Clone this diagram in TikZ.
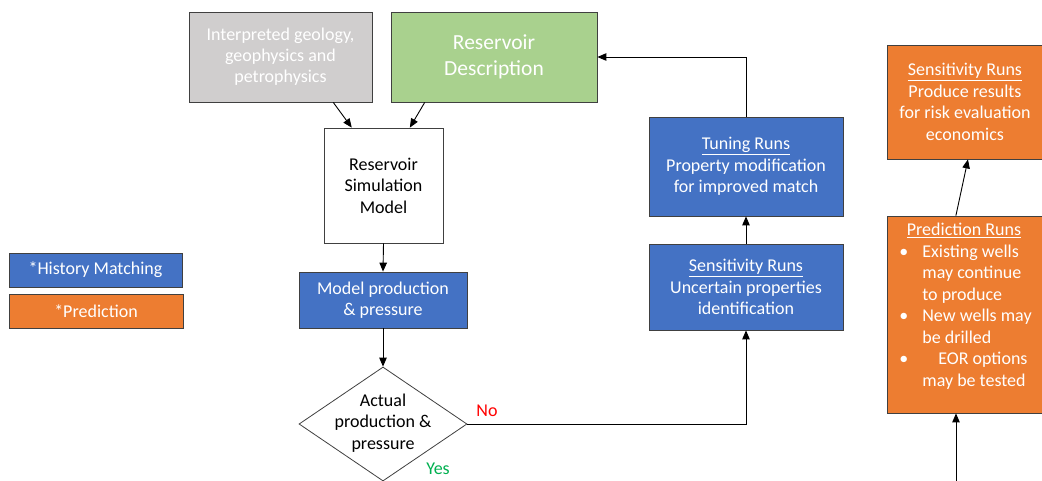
\documentclass[tikz,border=0pt]{standalone}
\usepackage{fontspec}
\setmainfont{Carlito}
\usetikzlibrary{arrows.meta,calc,shapes.geometric}
\definecolor{hmblue}{HTML}{4472C4}
\definecolor{prorange}{HTML}{ED7D31}
\definecolor{rdgreen}{HTML}{A9D18E}
\definecolor{ggray}{HTML}{D0CECE}
\definecolor{nored}{HTML}{FF0000}
\definecolor{yesgreen}{HTML}{00B050}
\tikzset{
  box/.style={draw=black!75, line width=0.8pt, inner sep=0pt, align=center,
    font=\fontsize{18}{21.5}\selectfont},
  bluebox/.style={box, fill=hmblue, text=white},
  orangebox/.style={box, fill=prorange, text=white},
  arr/.style={draw=black, line width=0.9pt, -{Triangle[length=9pt,width=7.5pt]}},
  lbl/.style={inner sep=0pt, font=\fontsize{18}{21}\selectfont}
}
\begin{document}
\begin{tikzpicture}[x=1pt,y=-1pt]
\useasboundingbox (0,0) rectangle (1042,480);
\clip (0,0) rectangle (1042,480);
\fill[white] (0,0) rectangle (1042,480);

% top inputs
\node[box, fill=ggray, text=white, minimum width=183pt, minimum height=90pt,
  font=\fontsize{18}{21}\selectfont] (geo) at (280.5,57)
  {Interpreted geology,\\geophysics and\\petrophysics};
\node[box, fill=rdgreen, text=white, minimum width=206pt, minimum height=90pt,
  font=\fontsize{21.5}{26}\selectfont] (desc) at (494,57)
  {Reservoir\\Description};

% main column
\node[box, fill=white, minimum width=119pt, minimum height=115pt] (sim) at (383.5,185.5)
  {Reservoir\\Simulation\\Model};
\node[bluebox, minimum width=168pt, minimum height=56pt] (prod) at (383,300)
  {Model production\\\& pressure};
\node[diamond, draw=black!75, line width=0.8pt, fill=white, minimum width=168pt,
  minimum height=114pt, inner sep=0pt] (dec) at (383,424) {};
\node[lbl, align=center, font=\fontsize{18}{21.5}\selectfont] (dectext) at (383,423)
  {Actual\\production \&\\pressure};
\node[lbl, text=nored] (no) at (487,411) {No};
\node[lbl, text=yesgreen] (yes) at (438,469) {Yes};

% history matching loop
\node[bluebox, minimum width=194pt, minimum height=99pt] (tun) at (746,166.5)
  {\underline{Tuning Runs}\\Property modification\\for improved match};
\node[bluebox, minimum width=194pt, minimum height=86pt] (sens) at (746,287)
  {\underline{Sensitivity Runs}\\Uncertain properties\\identification};

% prediction column
\node[orangebox, minimum width=156pt, minimum height=114pt] (risk) at (965,102)
  {\underline{Sensitivity Runs}\\Produce results\\for risk evaluation\\economics};
\node[orangebox, minimum width=156pt, minimum height=197pt] (pred) at (965,314.5)
  {\raisebox{3.5pt}[0pt][0pt]{\renewcommand{\arraystretch}{1}%
   \begin{tabular}{@{}l@{}l@{}}
   \multicolumn{2}{c}{\hspace{-2pt}\underline{Prediction Runs}}\\
   \makebox[24pt][l]{\hspace{1pt}\textbullet} & Existing wells\\
    & may continue\\
    & to produce\\
   \makebox[24pt][l]{\hspace{1pt}\textbullet} & New wells may\\
    & be drilled\\
   \makebox[24pt][l]{\hspace{1pt}\textbullet} & \hspace{16pt}EOR options\\
    & may be tested
   \end{tabular}}};
\coordinate (pin) at (956,484);

% legend
\node[bluebox, minimum width=173pt, minimum height=34pt] (leghm) at (95.5,270)
  {*History Matching};
\node[orangebox, minimum width=174pt, minimum height=34pt] (legpr) at (96,311)
  {*Prediction};

% connectors
\draw[arr] ($(geo.south west)!0.787!(geo.south east)$) -- ($(sim.north west)!0.235!(sim.north east)$);
\draw[arr] ($(desc.south west)!0.165!(desc.south east)$) -- ($(sim.north west)!0.72!(sim.north east)$);
\draw[arr] (sim.south) -- (prod.north);
\draw[arr] (prod.south) -- (dec.north);
\draw[arr] (dec.east) -| (sens.south);
\draw[arr] (sens.north) -- (tun.south);
\draw[arr] (tun.north) |- (desc.east);
\draw[arr] ($(pred.north west)!0.442!(pred.north east)$) -- ($(risk.south west)!0.519!(risk.south east)$);
\draw[arr] (pin) -- (pin |- pred.south);
\end{tikzpicture}
\end{document}
